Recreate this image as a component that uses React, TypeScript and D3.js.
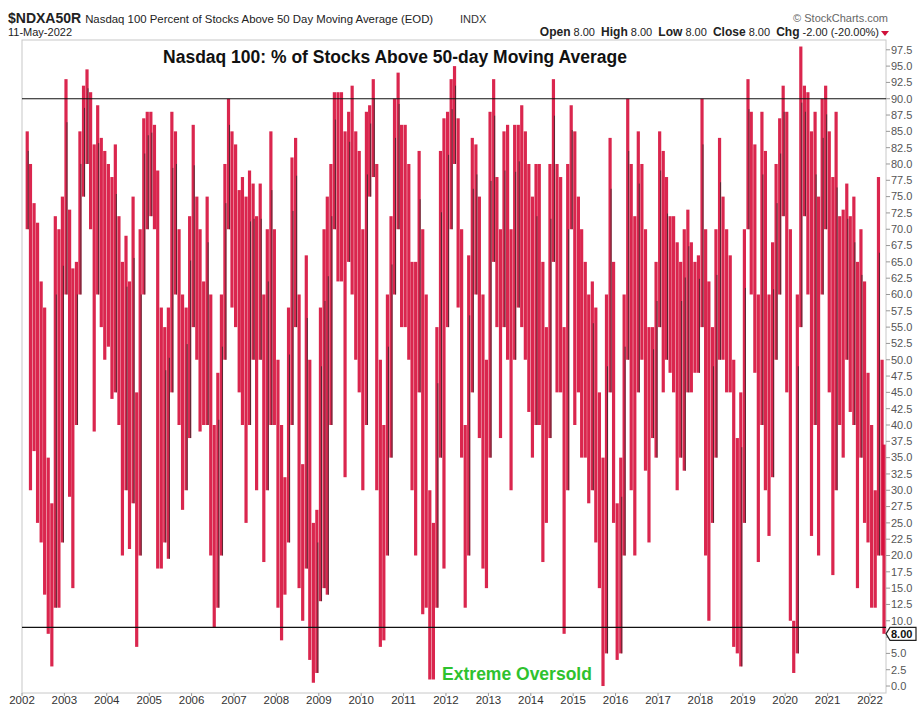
import * as React from "react";
import * as d3 from "d3";

// monthly high / low of $NDXA50R, Feb 2002 .. May 2022
const firstMonth = new Date(2002, 1, 1);
const highs = [
  85, 80, 74, 71, 62, 58, 35, 28, 72, 70, 75, // 2002
  93, 73, 64, 65, 85, 92, 94.5, 91, 83, 89, 84, 82, // 2003
  80, 78, 83, 72, 65, 69, 62, 75, 45, 70, 87, 88, // 2004
  88, 86, 79, 58, 55, 58, 88, 85, 70, 60, 58, 72, // 2005
  86, 75, 70, 62, 75, 60, 40, 48, 60, 80, 90, 85, // 2006
  83, 76, 78, 75, 79, 77, 72, 77, 60, 70, 85, 70, // 2007
  50, 40, 32, 58, 81, 84, 60, 34, 66, 50, 25, 27, // 2008
  58, 70, 75, 80, 91, 91, 91, 85, 88, 92, 85, 82, // 2009
  70, 88, 89, 93, 80, 50, 40, 60, 72, 90, 94, 86, // 2010
  86, 80, 65, 65, 82, 70, 60, 30, 25, 55, 82, 87, // 2011
  88, 93, 95, 87, 70, 40, 66, 84, 83, 75, 60, 50, // 2012
  88, 93, 78, 70, 85, 86, 70, 86, 86, 89, 85, 80, // 2013
  75, 80, 80, 65, 55, 80, 93, 80, 78, 55, 80, 89, // 2014
  85, 75, 70, 65, 60, 62, 58, 45, 35, 60, 84, 65, // 2015
  28, 35, 60, 90, 80, 72, 85, 80, 70, 55, 55, 65, // 2016
  85, 82, 78, 72, 72, 68, 65, 70, 73, 68, 65, 66, // 2017
  90, 70, 62, 55, 70, 84, 75, 70, 66, 50, 38, 45, // 2018
  70, 93, 88, 83, 60, 88, 82, 60, 68, 80, 87, 92, // 2019
  88, 70, 10, 60, 98, 92, 91, 85, 88, 75, 90, 92, // 2020
  85, 78, 88, 72, 73, 77, 72, 75, 65, 70, 62, 48, // 2021
  40, 30, 78, 50, 37, // 2022
];
const lows = [
  70, 30, 36, 25, 22, 14, 8, 3, 12, 12, 22,
  60, 29, 15, 40, 60, 75, 80, 70, 39, 60, 55, 50,
  52, 44, 45, 40, 20, 30, 21, 28, 6, 20, 60, 70,
  72, 70, 18, 18, 22, 19.5, 45, 60, 40, 27, 30, 38,
  55, 50, 39, 40, 40, 20, 9, 12, 20, 50, 70, 58,
  55, 45, 40, 25, 40, 50, 30, 50, 19, 30, 40, 40,
  12, 7, 14, 22, 40, 55, 15, 10, 18, 4, 0.5, 2,
  13, 15, 14, 40, 70, 62, 62, 32, 65, 60, 50, 45,
  30, 40, 75, 78, 30, 6, 7, 20, 35, 60, 70, 55,
  55, 50, 30, 20, 45, 11, 12, 1, 1, 12, 35, 18,
  55, 70, 80, 58, 35, 12, 20, 45, 60, 38, 18, 15,
  35, 65, 55, 38, 55, 50, 30, 50, 58, 55, 50, 42,
  35, 40, 40, 19, 25, 38, 65, 45, 45, 8, 30, 70,
  40, 45, 35, 35, 28, 30, 22, 15, 0, 5, 45, 25,
  4, 5, 20, 50, 30, 20, 45, 50, 33, 22, 38, 35,
  55, 45, 50, 48, 45, 30, 35, 33, 45, 45, 48, 48,
  55, 20, 10, 25, 35, 50, 50, 45, 45, 6, 5, 3,
  25, 70, 60, 48, 19, 40, 30, 23, 32, 50, 60, 72,
  45, 10, 2, 5, 55, 72, 60, 23, 40, 20, 60, 70,
  45, 17, 30, 40, 35, 50, 42, 40, 15, 35, 25, 22,
  12, 12, 20, 20, 8,
];
const yTicks = d3.range(0, 98, 2.5);
const years = d3.range(2002, 2023);
const refLines = [90, 9];
const lastValue = 8;

function drawChart(svgRef: React.RefObject<SVGSVGElement>) {
  const width = 917;
  const height = 705;
  const plot = { left: 22, right: 886, top: 40, bottom: 693 };
  const font = "'Liberation Sans', Arial, sans-serif";

  const svg = d3.select(svgRef.current).attr("width", width).attr("height", height);
  svg.selectAll("*").remove();

  svg.append("rect").attr("width", width).attr("height", height).attr("fill", "#fff");

  const x = d3
    .scaleTime()
    .domain([new Date(2002, 0, 1), new Date(2022, 0, 1)])
    .range([plot.left, 870]);
  const y = d3.scaleLinear().domain([-1.07, 99]).range([plot.bottom, plot.top]);

  // header
  const head = svg.append("g").style("font-family", font);
  const t1 = head.append("text").attr("x", 8).attr("y", 23).attr("fill", "#222");
  t1.append("tspan").attr("font-weight", "bold").attr("font-size", 14).text("$NDXA50R");
  t1.append("tspan").attr("font-size", 11.4).attr("dx", 4)
    .text("Nasdaq 100 Percent of Stocks Above 50 Day Moving Average (EOD)");
  head.append("text").attr("x", 460).attr("y", 23).attr("font-size", 11).attr("fill", "#333").text("INDX");
  head.append("text").attr("x", 888).attr("y", 22).attr("font-size", 11).attr("fill", "#666")
    .attr("text-anchor", "end").text("© StockCharts.com");
  head.append("text").attr("x", 8).attr("y", 36).attr("font-size", 11).attr("fill", "#222").text("11-May-2022");

  const quote = head.append("text").attr("x", 879).attr("y", 36).attr("text-anchor", "end").attr("fill", "#222");
  const parts: [string, string][] = [["Open", " 8.00  "], ["High", " 8.00  "], ["Low", " 8.00  "], ["Close", " 8.00  "], ["Chg", " -2.00 (-20.00%)"]];
  parts.forEach(([k, v]) => {
    quote.append("tspan").attr("font-weight", "bold").attr("font-size", 12).text(k);
    quote.append("tspan").attr("font-size", 11).attr("xml:space", "preserve").text(v);
  });
  head.append("path").attr("d", "M881,31 L889,31 L885,36 Z").attr("fill", "#d0103a");

  // frame
  svg.append("rect")
    .attr("x", plot.left).attr("y", plot.top)
    .attr("width", plot.right - plot.left).attr("height", plot.bottom - plot.top)
    .attr("fill", "none").attr("stroke", "#c8c8c8");

  // bars
  const bars = highs.map((h, i) => {
    const d = d3.timeMonth.offset(firstMonth, i);
    return { date: d3.timeDay.offset(d, 14), hi: h, lo: lows[i] };
  });
  const bw = 3.2;
  const g = svg.append("g");
  bars.forEach((b, i) => {
    const cx = Math.min(x(b.date), plot.right - 2);
    const prevMid = i > 0 ? (bars[i - 1].hi + bars[i - 1].lo) / 2 : 0;
    const up = (b.hi + b.lo) / 2 > prevMid;
    g.append("rect")
      .attr("x", cx - bw / 2)
      .attr("y", y(b.hi))
      .attr("width", bw)
      .attr("height", Math.max(1, y(b.lo) - y(b.hi)))
      .attr("fill", "#d4002f")
      .attr("fill-opacity", 0.85);
    if (up) {
      g.append("line")
        .attr("x1", cx + 1).attr("x2", cx + 1)
        .attr("y1", y(b.hi) + (y(b.lo) - y(b.hi)) * 0.2)
        .attr("y2", y(b.lo))
        .attr("stroke", "#2a2a2a").attr("stroke-width", 1).attr("stroke-opacity", 0.75);
    }
  });

  // reference lines
  svg.selectAll(".ref").data(refLines).enter().append("line")
    .attr("x1", plot.left).attr("x2", plot.right)
    .attr("y1", (d) => y(d)).attr("y2", (d) => y(d))
    .attr("stroke", "#111").attr("stroke-width", 1.2);

  // right axis (the tick under the last-value box is hidden, as in the source)
  const ax = svg.append("g").style("font-family", font);
  yTicks.forEach((v) => {
    ax.append("line").attr("x1", plot.right).attr("x2", plot.right + 4)
      .attr("y1", y(v)).attr("y2", y(v)).attr("stroke", "#999");
    if (Math.abs(v - lastValue) < 2) return;
    ax.append("text").attr("x", plot.right + 5).attr("y", y(v)).attr("dy", "0.35em")
      .attr("font-size", 11).attr("fill", "#555").text(d3.format(".1f")(v));
  });
  const ly = y(lastValue);
  ax.append("path")
    .attr("d", `M${plot.right},${ly} L${plot.right + 4},${ly - 6.5} L916,${ly - 6.5} L916,${ly + 6.5} L${plot.right + 4},${ly + 6.5} Z`)
    .attr("fill", "#fff").attr("stroke", "#222").attr("stroke-width", 1.2);
  ax.append("text").attr("x", plot.right + 5).attr("y", ly).attr("dy", "0.36em")
    .attr("font-size", 11).attr("font-weight", "bold").attr("fill", "#111").text(d3.format(".2f")(lastValue));

  // bottom axis
  years.forEach((yr) => {
    const px = x(new Date(yr, 0, 1));
    ax.append("line").attr("x1", px).attr("x2", px).attr("y1", plot.bottom).attr("y2", plot.bottom + 3).attr("stroke", "#999");
    ax.append("text").attr("x", px).attr("y", 704).attr("text-anchor", "middle")
      .attr("font-size", 11.5).attr("fill", "#333").text(String(yr));
  });

  // annotations
  svg.append("text").attr("x", 395).attr("y", 63).attr("text-anchor", "middle")
    .style("font-family", font).attr("font-size", 17.5).attr("font-weight", "bold").attr("fill", "#111")
    .text("Nasdaq 100: % of Stocks Above 50-day Moving Average");
  svg.append("text").attr("x", 517).attr("y", 680).attr("text-anchor", "middle")
    .style("font-family", font).attr("font-size", 17.5).attr("font-weight", "bold").attr("fill", "#2ec22e")
    .text("Extreme Oversold");
}

const App: React.FunctionComponent = () => {
  const svg = React.useRef<SVGSVGElement>(null);
  React.useEffect(() => {
    document.body.style.margin = "0";
    drawChart(svg);
  }, [svg]);

  return (
    <div id="chart">
      <svg ref={svg} style={{ display: "block" }} />
    </div>
  );
};

export default App;
